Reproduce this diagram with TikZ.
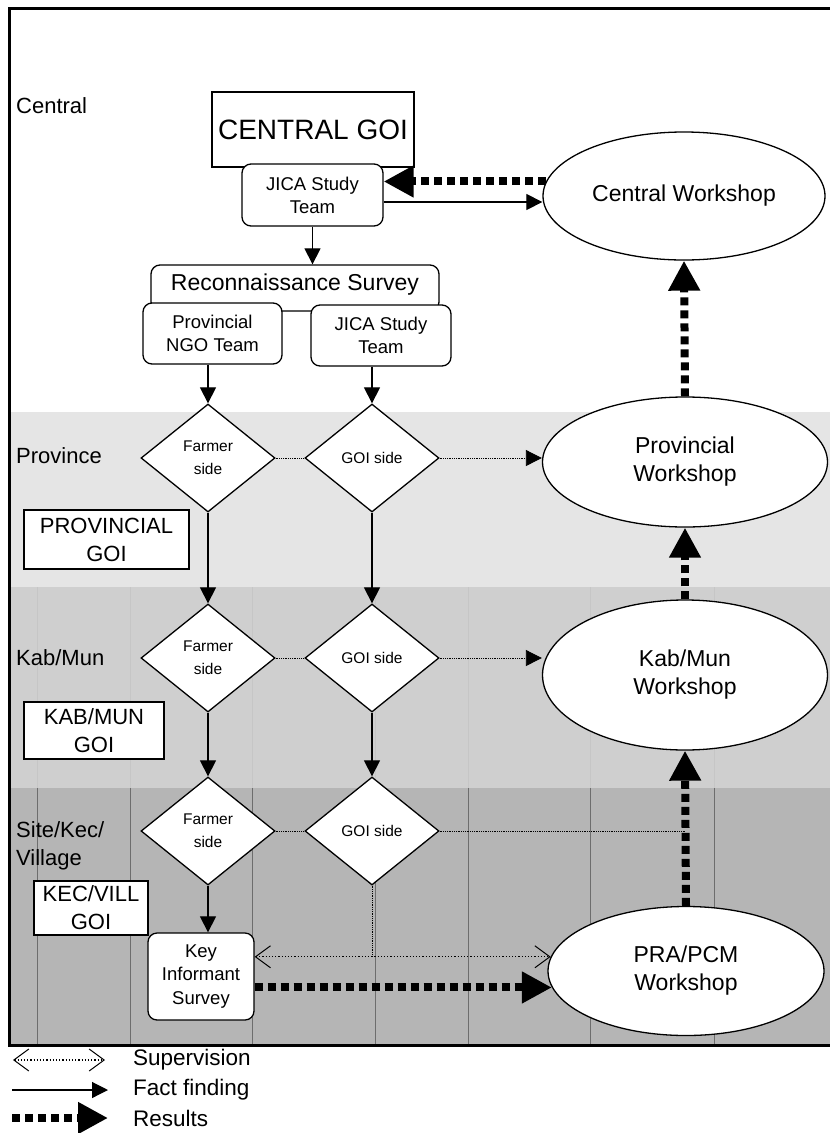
\documentclass[tikz,border=0pt]{standalone}
\usepackage{fontspec}
\setmainfont{Liberation Sans}
\usetikzlibrary{shapes.geometric,arrows.meta,positioning}
\newcommand\sz[2]{\fontsize{#1pt}{#2pt}\selectfont}
\definecolor{bandA}{gray}{0.90}
\definecolor{bandB}{gray}{0.81}
\definecolor{bandC}{gray}{0.71}
\tikzset{
  box/.style={draw, fill=white, line width=1.3pt, align=center, inner sep=0pt},
  rbox/.style={box, rounded corners=9pt},
  choice/.style={diamond, aspect=1.24, draw, fill=white, line width=1.3pt, inner sep=0pt,
    minimum width=134pt, minimum height=108pt, align=center, font=\sz{15.5}{23}},
  workshop/.style={ellipse, draw, fill=white, line width=1.3pt, inner sep=0pt, align=center, font=\sz{23}{28}},
  level/.style={anchor=west, align=left, inner sep=0pt, font=\sz{22}{28}},
  fact/.style={-{Triangle[length=16pt,width=16pt]}, line width=1.2pt},
  link/.style={densely dotted, line width=0.8pt},
  linkfact/.style={link, -{Triangle[length=16pt,width=16pt]}},
  result/.style={-{Triangle[length=30pt,width=30pt]}, line width=8pt, dash pattern=on 8pt off 5pt},
  superv/.style={dotted, line width=1.2pt,
    {Straight Barb[length=15pt,width=22pt,line width=1pt]}-{Straight Barb[length=15pt,width=22pt,line width=1pt]}}
}
\begin{document}
\begin{tikzpicture}[x=1pt, y=-1pt]
\useasboundingbox (0,0) rectangle (830,1133);
% level bands
\fill[bandA] (9,412) rectangle (840,587);
\fill[bandB] (9,587) rectangle (840,788);
\fill[bandC] (9,788) rectangle (840,1045);
\foreach \gx in {37,130,252,375,468,590,714}{
  \draw[gray!45, line width=0.5pt] (\gx,587) -- (\gx,788);
  \draw[gray!30!black, line width=0.5pt, opacity=0.5] (\gx,788) -- (\gx,1045);
}
\draw[line width=3pt] (840,8) -- (9,8) -- (9,1045) -- (840,1045);

% levels
\node[level] (lvCentral) at (16,106) {Central};
\node[level] (lvProv) at (16,456) {Province};
\node[level] (lvKab) at (16,658) {Kab/Mun};
\node[level] (lvSite) at (16,846) {Site/Kec/\\Village};

% central
\node[box, minimum width=202pt, minimum height=75pt, font=\sz{28}{32}] (cgoi) at (313,129.5) {CENTRAL GOI};
\node[rbox, minimum width=141pt, minimum height=62pt, font=\sz{18.5}{23}] (jica1) at (312.5,195) {JICA Study\\Team};
\node[workshop, minimum width=282pt, minimum height=128pt] (wsCentral) at (684,196) {Central Workshop};

% survey
\node[rbox, minimum width=288pt, minimum height=46pt, font=\sz{23}{27}, text depth=12pt] (recon) at (295,288) {Reconnaissance Survey};
\node[rbox, minimum width=139pt, minimum height=61pt, font=\sz{18.5}{23}] (ngo) at (212.5,333.5) {Provincial\\NGO Team};
\node[rbox, minimum width=140pt, minimum height=61pt, font=\sz{18.5}{23}] (jica2) at (381,335.5) {JICA Study\\Team};

% sides
\node[choice] (fP) at (208,458) {Farmer\\side};
\node[choice] (gP) at (372,458) {GOI side};
\node[choice] (fK) at (208,658) {Farmer\\side};
\node[choice] (gK) at (372,658) {GOI side};
\node[choice] (fS) at (208,831) {Farmer\\side};
\node[choice] (gS) at (372,831) {GOI side};

% workshops
\node[workshop, minimum width=285pt, minimum height=130pt] (wsProv) at (685,462) {Provincial\\Workshop};
\node[workshop, minimum width=285pt, minimum height=150pt] (wsKab) at (685,675) {Kab/Mun\\Workshop};
\node[workshop, minimum width=276pt, minimum height=129pt] (wsPRA) at (686,971) {PRA/PCM\\Workshop};

% local GOI
\node[box, minimum width=165pt, minimum height=59pt, font=\sz{22}{28}] (provgoi) at (106.5,539.5) {PROVINCIAL\\GOI};
\node[box, minimum width=140pt, minimum height=57pt, font=\sz{22}{28}] (kabgoi) at (94,730.5) {KAB/MUN\\GOI};
\node[box, minimum width=114pt, minimum height=54pt, font=\sz{22}{28}] (kecgoi) at (91,908) {KEC/VILL\\GOI};
\node[rbox, minimum width=106pt, minimum height=87pt, font=\sz{18.5}{23.5}] (kis) at (201,976.5) {Key\\Informant\\Survey};

% fact finding
\draw[fact] (jica1.south) -- (jica1.south |- recon.north);
\draw[fact] ([yshift=-7pt]jica1.east) -- ([yshift=-7pt]jica1.east -| wsCentral.west);
\draw[fact] (fP.north |- ngo.south) -- (fP.north);
\draw[fact] (gP.north |- jica2.south) -- (gP.north);
\draw[fact] (fP.south) -- (fK.north);
\draw[fact] (gP.south) -- (gK.north);
\draw[fact] (fK.south) -- (fS.north);
\draw[fact] (gK.south) -- (gS.north);
\draw[fact] (fS.south) -- (fS.south |- kis.north);

% dotted links
\draw[link] (fP.east) -- (gP.west);
\draw[linkfact] (gP.east) -- (gP.east -| wsProv.west);
\draw[link] (fK.east) -- (gK.west);
\draw[linkfact] (gK.east) -- (gK.east -| wsKab.west);
\draw[link] (fS.east) -- (gS.west);
\draw[link] (gS.east) -- (gS.east -| wsPRA.north);
\draw[link] (gS.south) -- (gS.south |- wsPRA.174);
\draw[superv] (kis.east |- wsPRA.174) -- (wsPRA.174);

% results
\draw[result] (wsCentral.174) -- (wsCentral.174 -| jica1.east);
\draw[result] (wsPRA.187 -| kis.east) -- (wsPRA.187);
\draw[result] (wsPRA.north) -- (wsKab.south);
\draw[result] (wsKab.north) -- (wsProv.south);
\draw[result] (wsProv.north) -- (wsCentral.south);

% legend
\coordinate (keyS0) at (13,1060);
\coordinate (keyS1) at (105,1060);
\coordinate (keyF0) at (12,1090);
\coordinate (keyF1) at (108,1090);
\coordinate (keyR0) at (12,1118);
\coordinate (keyR1) at (108,1118);
\draw[superv] (keyS0) -- (keyS1);
\draw[fact] (keyF0) -- (keyF1);
\draw[result] (keyR0) -- (keyR1);
\node[anchor=west, inner sep=0pt, font=\sz{22.5}{27}] (keyStxt) at (133,1060) {Supervision};
\node[anchor=west, inner sep=0pt, font=\sz{22.5}{27}] (keyFtxt) at (133,1090) {Fact finding};
\node[anchor=west, inner sep=0pt, font=\sz{22.5}{27}] (keyRtxt) at (133,1118) {Results};
\end{tikzpicture}
\end{document}
